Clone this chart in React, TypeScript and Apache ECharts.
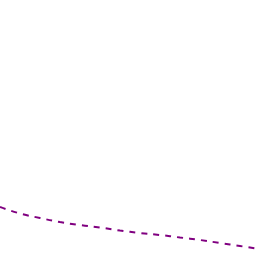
import React, { useEffect, useRef } from "react";
import * as echarts from "echarts";

const xValues = [0, 20, 40, 60, 80, 100, 120, 140, 160, 180, 200, 220, 240, 256];
const yValues = [49, 42.5, 38, 34, 31, 28.5, 25.5, 23, 21, 18.5, 16, 13, 10, 7.5];

export default function App() {
  const ref = useRef<HTMLDivElement>(null);
  useEffect(() => {
    const chart = echarts.init(ref.current!, null, { renderer: "svg" });
    chart.setOption({
      animation: false,
      grid: { left: 0, right: 0, top: 0, bottom: 0 },
      xAxis: { type: "value", min: 0, max: 256, show: false },
      yAxis: { type: "value", min: 0, max: 256, show: false },
      series: [
        {
          type: "line",
          data: xValues.map((x, i) => [x, yValues[i]]),
          showSymbol: false,
          smooth: true,
          lineStyle: { color: "#800080", width: 2, type: [6, 6] },
        },
      ],
    });
    return () => chart.dispose();
  }, []);
  return (
    <div
      ref={ref}
      style={{ position: "fixed", left: 0, top: 0, width: 256, height: 256, background: "#fff" }}
    />
  );
}
